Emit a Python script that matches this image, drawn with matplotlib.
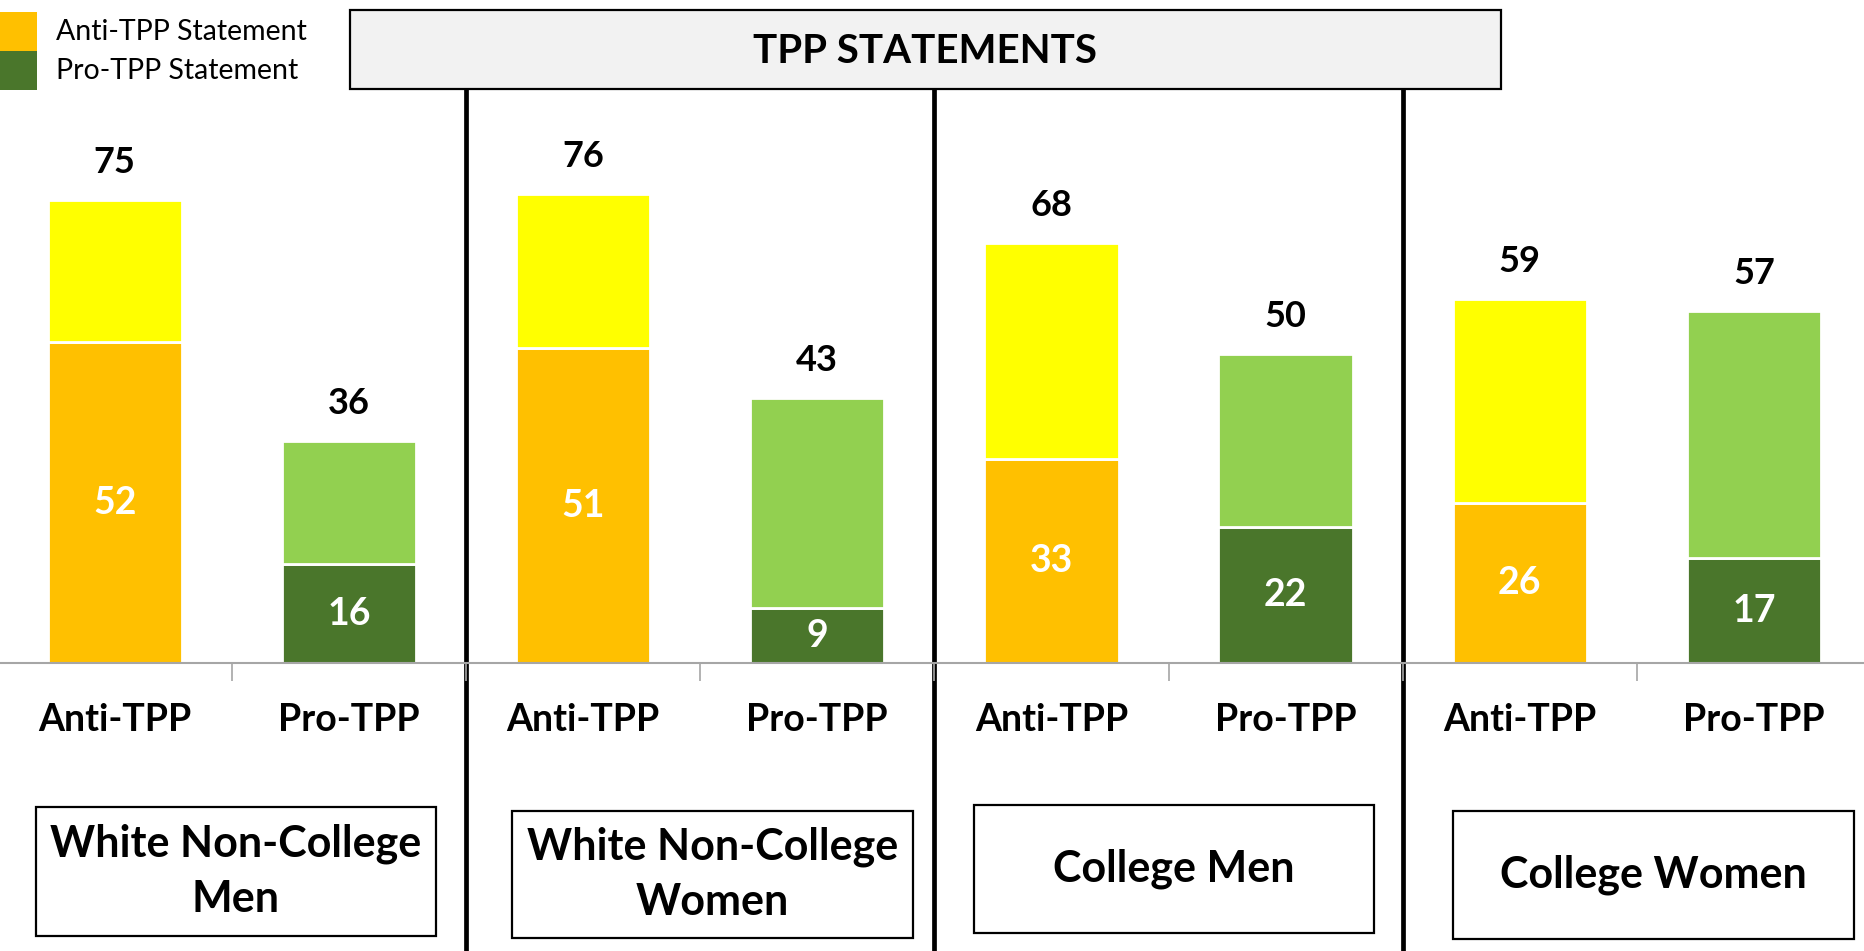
import matplotlib
matplotlib.use("Agg")
import matplotlib.pyplot as plt
import matplotlib.transforms as mtransforms
from matplotlib.patches import Rectangle
import numpy as np

plt.rcParams['font.family'] = ['Lato', 'DejaVu Sans']

# data
groups = ["White Non-College\nMen", "White Non-College\nWomen", "College Men", "College Women"]
categories = ["Anti-TPP", "Pro-TPP"] * 4
strong = [52, 16, 51, 9, 33, 22, 26, 17]
total = [75, 36, 76, 43, 68, 50, 59, 57]
legend_labels = ["Anti-TPP Statement", "Pro-TPP Statement"]
title = "TPP STATEMENTS"

anti_dark, anti_light = "#FFC000", "#FFFF00"
pro_dark, pro_light = "#4A762B", "#92D050"

W, H = 1568.0, 800.0   # layout measured on the reduced picture
def fx(x):
    return x / W
def fy(y):
    return 1 - y / H

fig = plt.figure(figsize=(18.64, 9.51), dpi=100)
px_per_unit = 5.2
ax = fig.add_axes([0, fy(558), 1, 100 * px_per_unit / H])
ax.set_xlim(-0.49, 7.47)
ax.set_ylim(0, 100)

x = np.arange(len(categories))
strong = np.array(strong)
total = np.array(total)
dark = [anti_dark if c.startswith("Anti") else pro_dark for c in categories]
light = [anti_light if c.startswith("Anti") else pro_light for c in categories]

ax.bar(x, strong, width=0.574, color=dark, edgecolor="white", linewidth=2, zorder=2)
ax.bar(x, total - strong, bottom=strong, width=0.574, color=light,
       edgecolor="white", linewidth=2, zorder=2)

for xi, s, t, c in zip(x, strong, total, categories):
    ax.annotate(str(t), (xi, t), xytext=(0, 27), textcoords="offset points",
                ha="center", va="center", fontsize=26, fontweight="bold")
    ax.text(xi, s / 2, str(s), ha="center", va="center", fontsize=27,
            fontweight="bold", color="white", zorder=3)
    ax.annotate(c, (xi, 0), xytext=(0, -41), textcoords="offset points",
                ha="center", va="center", fontsize=27, fontweight="bold",
                annotation_clip=False)

for side in ["top", "left", "right"]:
    ax.spines[side].set_visible(False)
ax.spines["bottom"].set_color("#A6A6A6")
ax.spines["bottom"].set_linewidth(1.5)
ax.set_yticks([])
ax.set_xticks([])
ax.set_xticks(np.arange(0.5, 7, 1), minor=True)
ax.tick_params(axis="x", which="minor", length=13, width=1.2, color="#A6A6A6")
ax.patch.set_visible(False)

# thick separators between groups
trans = mtransforms.blended_transform_factory(ax.transData, fig.transFigure)
for b in [1.5, 3.5, 5.5]:
    ax.plot([b, b], [0, fy(75)], color="black", linewidth=3.4, transform=trans,
            clip_on=False, zorder=1)

# title box
fig.patches.append(Rectangle((fx(294), fy(75)), fx(1263) - fx(294), fy(8) - fy(75),
                             transform=fig.transFigure, facecolor="#F2F2F2",
                             edgecolor="black", linewidth=1.6, zorder=5))
fig.text(fx(778), fy(43), title, ha="center", va="center", fontsize=29,
         fontweight="bold", zorder=6)

# legend
leg_cols = [anti_dark, pro_dark]
leg_y = [(10, 43), (43, 76)]
for lab, col, (y0, y1) in zip(legend_labels, leg_cols, leg_y):
    fig.patches.append(Rectangle((0, fy(y1)), fx(31), fy(y0) - fy(y1),
                                 transform=fig.transFigure, facecolor=col,
                                 edgecolor="none"))
    fig.text(fx(47), fy((y0 + y1) / 2), lab, ha="left", va="center", fontsize=20.5)

# group label boxes
boxes = [(30, 679, 367, 787), (431, 682, 768, 789), (819, 677, 1156, 785), (1222, 682, 1560, 790)]
for g, (x0, y0, x1, y1) in zip(groups, boxes):
    fig.patches.append(Rectangle((fx(x0), fy(y1)), fx(x1) - fx(x0), fy(y0) - fy(y1),
                                 transform=fig.transFigure, facecolor="white",
                                 edgecolor="black", linewidth=1.6))
    fig.text(fx((x0 + x1) / 2), fy((y0 + y1) / 2), g, ha="center", va="center",
             fontsize=31, fontweight="bold", linespacing=1.45)

fig.savefig("out.png", dpi=100)
